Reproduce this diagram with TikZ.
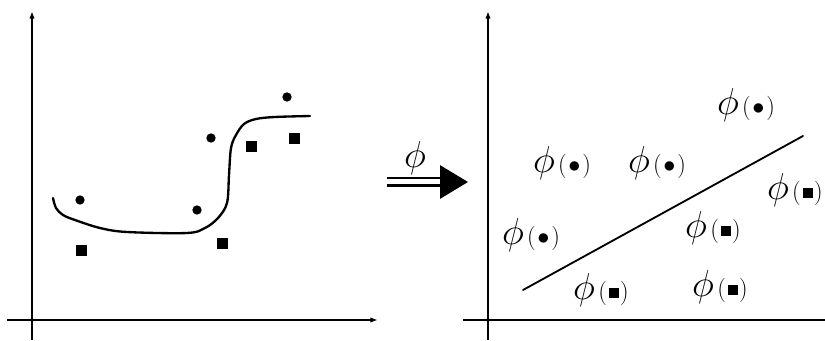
\documentclass[tikz,border=0pt]{standalone}
\usepackage{amsmath}
\usepackage{graphicx}
\usetikzlibrary{arrows.meta}
\tikzset{
  px/.style={x=0.3mm, y=-0.3mm},
  k axis/.style={line width=0.35mm, -{Triangle[length=2mm, width=1.4mm]}},
  k plain/.style={line width=0.35mm},
  k curve/.style={line width=0.7mm, line cap=round},
  k sep/.style={line width=0.55mm, line cap=round},
  k dot/.style={circle, fill, inner sep=0pt, minimum size=2.8mm},
  k sq/.style={rectangle, fill, inner sep=0pt, minimum size=3.3mm},
  k img/.style={inner sep=0pt},
  k phi/.style={inner sep=0pt},
  k map/.style={line width=0.6mm, double distance=1.5mm, -{Triangle[length=8.4mm, width=10mm]}},
}
\newcommand{\bigphi}{\scalebox{1.29}{\Huge$\phi$}}
\newcommand{\imgof}[1]{\bigphi\hspace{1mm}{\huge(\hspace{0.5mm}#1\hspace{0.5mm})}}
\newcommand{\dotmark}{$\bullet$}
\newcommand{\sqmark}{\rule[0.3mm]{3mm}{3mm}}

\begin{document}
\begin{tikzpicture}[px]
\useasboundingbox (0,0) rectangle (825,341);
\clip (0,0) rectangle (825,341);
\coordinate (ly0) at (32,340); \coordinate (ly1) at (32,12);
\coordinate (lx0) at (7,320); \coordinate (lx1) at (377,320);
\draw[k axis] (ly0) -- (ly1); \draw[k axis] (lx0) -- (lx1);
\draw[k curve] plot[smooth, tension=0.55] coordinates {(53,198) (56,208) (63,215) (75,220) (100,228) (127,232) (187,233) (205,228) (218,218) (227,203) (229,175) (231,148) (236,135) (244,124) (256,119) (275,117) (310,116)};
\node[k dot] (c1) at (80,200) {}; \node[k dot] (c2) at (197,210) {};
\node[k dot] (c3) at (211,138) {}; \node[k dot] (c4) at (287,97) {};
\node[k sq] (s1) at (81,250) {}; \node[k sq] (s2) at (222,243) {};
\node[k sq] (s3) at (251,147) {}; \node[k sq] (s4) at (294,139) {};
\coordinate (m0) at (387,182); \coordinate (m1) at (468,182);
\draw[k map] (m0) -- (m1);
\node[k phi] (mlbl) at (415,158) {\bigphi};
\coordinate (ry0) at (488,340); \coordinate (ry1) at (488,12);
\coordinate (rx0) at (463,320); \coordinate (rx1) at (825,320);
\draw[k axis] (ry0) -- (ry1); \draw[k plain] (rx0) -- (rx1);
\coordinate (h0) at (523,290); \coordinate (h1) at (803,136);
\draw[k sep] (h0) -- (h1);
\node[k img] (f1) at (746,105) {\imgof{\dotmark}};
\node[k img] (f2) at (562,163) {\imgof{\dotmark}};
\node[k img] (f3) at (657,163) {\imgof{\dotmark}};
\node[k img] (f4) at (531,235) {\imgof{\dotmark}};
\node[k img, anchor=east] (g1) at (823,190) {\imgof{\sqmark}};
\node[k img] (g2) at (713,228) {\imgof{\sqmark}};
\node[k img] (g3) at (601,290) {\imgof{\sqmark}};
\node[k img] (g4) at (720,287) {\imgof{\sqmark}};
\end{tikzpicture}
\end{document}
